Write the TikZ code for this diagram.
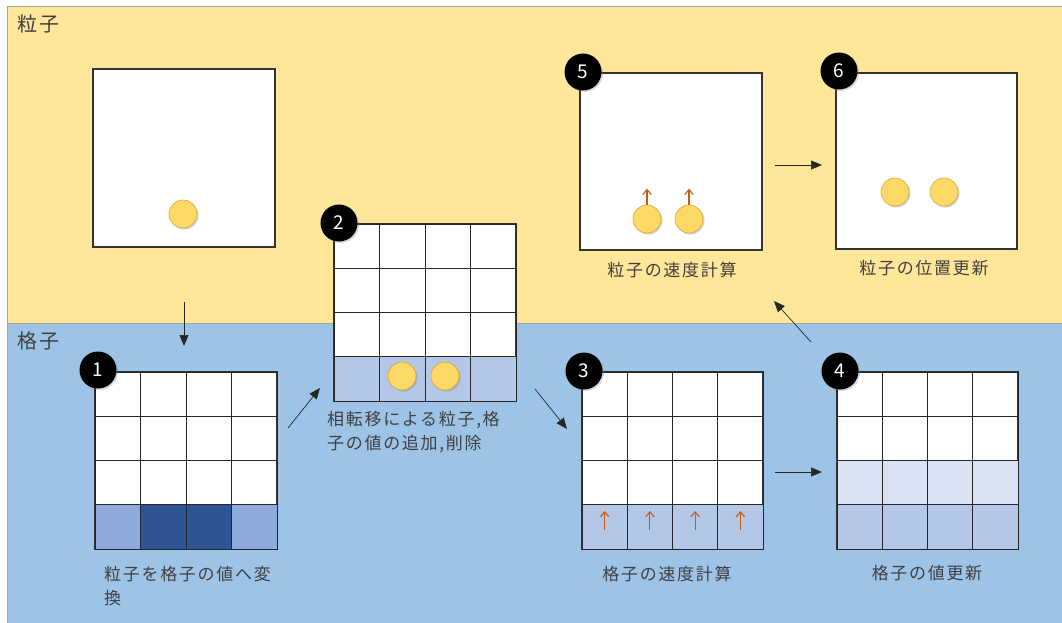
\documentclass[tikz,border=0pt]{standalone}
\usepackage{fontspec}
\setmainfont{Noto Sans CJK JP}
\newfontfamily\jp[LetterSpace=10]{Noto Sans CJK JP}
\usetikzlibrary{shadows,arrows.meta}
\definecolor{bgY}{HTML}{FFE699}
\definecolor{bgB}{HTML}{9DC3E6}
\definecolor{framec}{HTML}{A6A6A6}
\definecolor{txt}{HTML}{404040}
\definecolor{cellA}{HTML}{8FAADC}
\definecolor{cellD}{HTML}{2F5597}
\definecolor{cellL}{HTML}{B4C7E7}
\definecolor{cellP}{HTML}{DAE3F3}
\definecolor{ball}{HTML}{FFD966}
\definecolor{ballE}{HTML}{D4A935}
\definecolor{vel}{HTML}{C55A11}
\tikzset{
  panel/.style={draw=black!80, line width=1.1pt, fill=white, inner sep=0pt},
  gridline/.style={draw=black!85, line width=1pt},
  particle/.style={circle, fill=ball, draw=ballE, line width=0.6pt, minimum size=28pt, inner sep=0pt,
    drop shadow={shadow xshift=1.5pt, shadow yshift=-1.5pt, opacity=0.35}},
  badge/.style={circle, fill=black, minimum size=37pt, inner sep=0pt, text=white,
    font=\fontsize{19}{19}\selectfont,
    drop shadow={shadow xshift=1.5pt, shadow yshift=-1.5pt, opacity=0.3}},
  flow/.style={line width=0.7pt, draw=black!85, -{Triangle[length=11pt,width=9pt]}},
  velo/.style={line width=1.1pt, draw=vel, -{Straight Barb[length=5pt,width=8.5pt]}},
  caption/.style={text=txt, font=\jp\fontsize{17}{24}\selectfont, inner sep=0pt},
  region/.style={text=txt, font=\jp\fontsize{20}{20}\selectfont, inner sep=0pt, anchor=west},
}
\newcommand{\cellgrid}[4]{%
  \foreach \i in {1,2,3} {
    \draw[gridline] ({#1+\i*#3/4}, #2) -- ({#1+\i*#3/4}, {#2+#4});
    \draw[gridline] (#1, {#2+\i*#4/4}) -- ({#1+#3}, {#2+\i*#4/4});
  }
  \draw[gridline] (#1,#2) rectangle ({#1+#3},{#2+#4});
}
\begin{document}
\begin{tikzpicture}[x=1pt,y=-1pt]
\useasboundingbox (0,0) rectangle (1062,623);
% backgrounds
\fill[bgY] (7,7) rectangle (1062,323);
\fill[bgB] (7,324) rectangle (1062,623);
\draw[framec, line width=1pt] (1062,6.5) -- (7.5,6.5) -- (7.5,623);
\draw[framec, line width=1pt] (7.5,323.5) -- (1062,323.5);
\node[region] (rp) at (17,24) {粒子};
\node[region] (rg) at (17,341) {格子};

% panel 0 (particles)
\node[panel, minimum width=182pt, minimum height=178pt] (p0) at (184,158) {};
\node[particle] (b0) at (183,214) {};

% grid 1
\node[panel, minimum width=182pt, minimum height=177pt] (g1) at (186,460.5) {};
\fill[cellA] (95,504.75) rectangle (140.5,549);
\fill[cellD] (140.5,504.75) rectangle (231.5,549);
\fill[cellA] (231.5,504.75) rectangle (277,549);
\cellgrid{95}{372}{182}{177}
\node[badge] (n1) at (98,370) {1};
\node[caption, align=left, anchor=north west] (c1) at (104,566) {粒子を格子の値へ変\\換};

% grid 2
\node[panel, minimum width=182pt, minimum height=177pt] (g2) at (425,312.5) {};
\fill[cellL] (334,356.75) rectangle (516,401);
\cellgrid{334}{224}{182}{177}
\node[particle] (b2a) at (402,376) {};
\node[particle] (b2b) at (445,376) {};
\node[badge] (n2) at (339,223) {2};
\node[caption, align=left, anchor=north west] (c2) at (327,411) {相転移による粒子,格\\子の値の追加,削除};

% grid 3
\node[panel, minimum width=181pt, minimum height=177pt] (g3) at (672.5,460.5) {};
\fill[cellL] (582,504.75) rectangle (763,549);
\cellgrid{582}{372}{181}{177}
\foreach \k [count=\j] in {604.6,649.9,695.1,740.4} {
  \coordinate (v3s\j) at (\k,530);
  \coordinate (v3e\j) at (\k,511);
  \draw[velo] (v3s\j) -- (v3e\j);
}
\node[badge] (n3) at (584,371) {3};
\node[caption] (c3) at (667,574) {格子の速度計算};

% grid 4
\node[panel, minimum width=181pt, minimum height=177pt] (g4) at (927.5,460.5) {};
\fill[cellP] (837,460.5) rectangle (1018,504.75);
\fill[cellL] (837,504.75) rectangle (1018,549);
\cellgrid{837}{372}{181}{177}
\node[badge] (n4) at (840,371) {4};
\node[caption] (c4) at (927,573) {格子の値更新};

% panel 5
\node[panel, minimum width=182pt, minimum height=177pt] (p5) at (671,161.5) {};
\node[particle] (b5a) at (647,219) {};
\node[particle] (b5b) at (689,219) {};
\draw[velo] (b5a.north) -- ++(0,-16);
\draw[velo] (b5b.north) -- ++(0,-16);
\node[badge] (n5) at (583,72) {5};
\node[caption] (c5) at (672,270) {粒子の速度計算};

% panel 6
\node[panel, minimum width=181pt, minimum height=176pt] (p6) at (926.5,161) {};
\node[particle] (b6a) at (895,192) {};
\node[particle] (b6b) at (944,192) {};
\node[badge] (n6) at (839,71) {6};
\node[caption] (c6) at (924,268) {粒子の位置更新};

% flow arrows
\coordinate (f1s) at (184,302); \coordinate (f1e) at (184,346);
\coordinate (f2s) at (288,428); \coordinate (f2e) at (320,388);
\coordinate (f3s) at (535,389); \coordinate (f3e) at (567,429);
\coordinate (f4s) at (775,472); \coordinate (f4e) at (822,472);
\coordinate (f5s) at (811,342); \coordinate (f5e) at (774,301);
\coordinate (f6s) at (775,165); \coordinate (f6e) at (822,165);
\draw[flow] (f1s) -- (f1e);
\draw[flow] (f2s) -- (f2e);
\draw[flow] (f3s) -- (f3e);
\draw[flow] (f4s) -- (f4e);
\draw[flow] (f5s) -- (f5e);
\draw[flow] (f6s) -- (f6e);
\end{tikzpicture}
\end{document}
